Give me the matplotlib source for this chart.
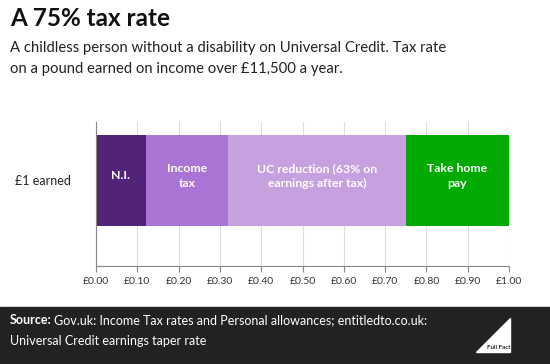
import matplotlib.pyplot as plt
from matplotlib.patches import Polygon, Rectangle

plt.rcParams['font.family'] = ['Lato', 'DejaVu Sans']

segments = ["N.I.", "Income\ntax", "UC reduction (63% on\nearnings after tax)", "Take home\npay"]
values = [0.12, 0.20, 0.43, 0.25]
colors = ["#51247a", "#a974d4", "#c6a1e0", "#00aa00"]
row_label = "£1 earned"
ticks = [0.0, 0.1, 0.2, 0.3, 0.4, 0.5, 0.6, 0.7, 0.8, 0.9, 1.0]

fig = plt.figure(figsize=(5.5, 3.64), dpi=100)

fig.text(0.018, 0.948, "A 75% tax rate", fontsize=17.5, fontweight='bold', va='center', color='#111111')
fig.text(0.018, 0.868, "A childless person without a disability on Universal Credit. Tax rate",
         fontsize=10.7, va='center', color='#222222')
fig.text(0.018, 0.81, "on a pound earned on income over £11,500 a year.",
         fontsize=10.7, va='center', color='#222222')

ax = fig.add_axes([0.1745, 0.269, 0.751, 0.396])
left = 0
for lab, v, c in zip(segments, values, colors):
    ax.barh(0, v, left=left, height=1, color=c, zorder=2)
    ax.text(left + v / 2, 0.05, lab, ha='center', va='center', color='white',
            fontsize=8.8, fontweight='bold', linespacing=1.4, zorder=3)
    left += v

ax.set_xlim(0, 1)
ax.set_ylim(-0.94, 0.643)
ax.set_xticks(ticks)
ax.set_xticklabels(["£%.2f" % t for t in ticks], fontsize=7.5, color='#333333')
ax.set_yticks([0])
ax.set_yticklabels([row_label], fontsize=9, color='#222222')
ax.tick_params(axis='y', length=0, pad=18)
ax.tick_params(axis='x', length=4, color='#888888', pad=4)
ax.grid(axis='x', color='#dddddd', lw=0.8, zorder=0)
for s in ['top', 'right']:
    ax.spines[s].set_visible(False)
for s in ['left', 'bottom']:
    ax.spines[s].set_color('#888888')

# footer band
fig.patches.append(Rectangle((0, 0), 1, 57 / 364, transform=fig.transFigure,
                             color='#222222', zorder=0))
src = fig.text(0.018, 0.12, "Source:", fontsize=9.0, color='white', va='center', fontweight='bold')
r = fig.canvas.get_renderer()
bb = src.get_window_extent(renderer=r)
fig.text(bb.x1 / fig.bbox.width + 0.005, 0.12,
         "Gov.uk: Income Tax rates and Personal allowances; entitledto.co.uk:",
         fontsize=9.0, color='white', va='center')
fig.text(0.018, 0.063, "Universal Credit earnings taper rate",
         fontsize=9.0, color='white', va='center')
fig.patches.append(Polygon([(0.866, 0.033), (0.928, 0.033), (0.928, 0.126)], closed=True,
                           transform=fig.transFigure, color='white', zorder=1))
fig.text(0.928, 0.045, "Full Fact", fontsize=4.5, color='#222222', ha='right', va='center',
         fontweight='bold', zorder=2)

fig.savefig("out.png", dpi=100)
